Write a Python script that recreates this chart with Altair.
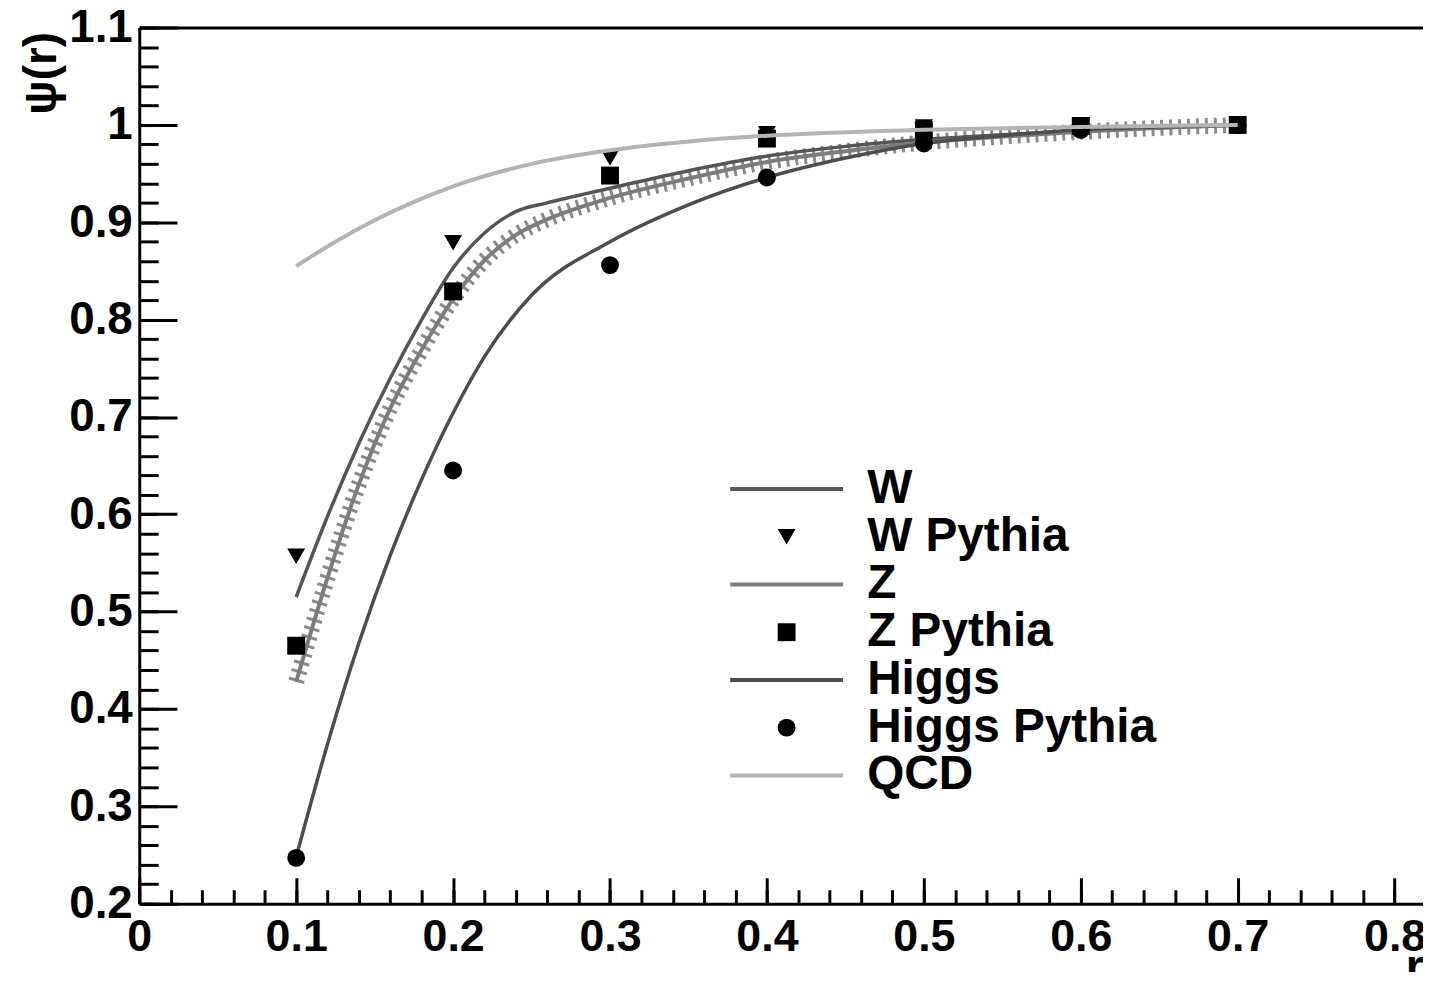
import altair as alt
import pandas as pd

FONT = "Liberation Sans"

# ---- curves ----
w_r = [0.100, 0.120, 0.140, 0.160, 0.180, 0.200, 0.220, 0.240, 0.260, 0.300, 0.350, 0.400, 0.450, 0.500, 0.550, 0.600, 0.650, 0.700]
w_v = [0.515, 0.598, 0.673, 0.740, 0.800, 0.853, 0.889, 0.911, 0.920, 0.935, 0.953, 0.968, 0.978, 0.985, 0.990, 0.994, 0.997, 1.000]

z_r = [0.100, 0.120, 0.140, 0.160, 0.180, 0.200, 0.220, 0.240, 0.260, 0.300, 0.350, 0.400, 0.450, 0.500, 0.550, 0.600, 0.650, 0.700]
z_v = [0.428, 0.535, 0.631, 0.709, 0.769, 0.821, 0.861, 0.887, 0.903, 0.925, 0.945, 0.962, 0.973, 0.982, 0.988, 0.993, 0.997, 1.000]

h_r = [0.100, 0.120, 0.140, 0.160, 0.180, 0.200, 0.220, 0.250, 0.300, 0.350, 0.400, 0.450, 0.500, 0.550, 0.600, 0.650, 0.700]
h_v = [0.248, 0.364, 0.468, 0.558, 0.636, 0.704, 0.762, 0.825, 0.880, 0.918, 0.946, 0.966, 0.981, 0.989, 0.995, 0.998, 1.000]

q_r = [0.100, 0.125, 0.150, 0.175, 0.200, 0.250, 0.300, 0.350, 0.400, 0.500, 0.600, 0.700]
q_v = [0.855, 0.880, 0.902, 0.921, 0.937, 0.960, 0.974, 0.983, 0.989, 0.995, 0.998, 1.000]

# ---- Pythia points ----
p_r = [0.1, 0.2, 0.3, 0.4, 0.5, 0.6, 0.7]
w_pythia = [0.557, 0.879, 0.966, 0.991, 0.998, 0.999, 1.000]
z_pythia = [0.465, 0.829, 0.948, 0.986, 0.995, 0.999, 1.000]
h_pythia = [0.247, 0.645, 0.856, 0.946, 0.981, 0.995, 1.000]

# ---- legend / styling lists ----
series_names = ["W", "W Pythia", "Z", "Z Pythia", "Higgs", "Higgs Pythia", "QCD"]
stroke_colors = ["#555555", "transparent", "#7c7c7c", "transparent", "#4d4d4d", "transparent", "#b4b4b4"]
fill_colors = ["transparent", "black", "transparent", "black", "transparent", "black", "transparent"]
LINE_SYMBOL = "M-6.3,0L6.3,0"
shapes = [LINE_SYMBOL, "triangle-down", LINE_SYMBOL, "square", LINE_SYMBOL, "circle", LINE_SYMBOL]
W_COLOR, Z_COLOR, H_COLOR, Q_COLOR = "#555555", "#7c7c7c", "#4d4d4d", "#b4b4b4"

# ---- axis tick values / labels ----
x_major = [0, 0.1, 0.2, 0.3, 0.4, 0.5, 0.6, 0.7, 0.8]
y_major = [0.2, 0.3, 0.4, 0.5, 0.6, 0.7, 0.8, 0.9, 1.0, 1.1]
x_minor = [round(i * 0.02, 2) for i in range(41)]
y_minor = [round(0.2 + i * 0.02, 2) for i in range(46)]

def frame(name, rs, vs):
    return pd.DataFrame({"series": name, "r": rs, "v": vs})

w_df = frame("W", w_r, w_v)
z_df = frame("Z", z_r, z_v)
h_df = frame("Higgs", h_r, h_v)
q_df = frame("QCD", q_r, q_v)
points = pd.concat([frame("W Pythia", p_r, w_pythia), frame("Z Pythia", p_r, z_pythia),
                    frame("Higgs Pythia", p_r, h_pythia)], ignore_index=True)

PLOT_W, PLOT_H = 1291, 881
xs = alt.Scale(domain=[0, 0.8181], nice=False, zero=False)
ys = alt.Scale(domain=[0.2, 1.1], nice=False, zero=False)

stroke_scale = alt.Scale(domain=series_names, range=stroke_colors)
fill_scale = alt.Scale(domain=series_names, range=fill_colors)
shape_scale = alt.Scale(domain=series_names, range=shapes)

# label axes
x_label_axis = alt.Axis(orient="bottom", values=x_major, format="~g", labelFont=FONT, labelFontWeight="bold",
                        labelFontSize=45, labelColor="black", labelPadding=11, labelFlush=False,
                        labelOverlap=False, ticks=False, tickSize=0, domain=True, domainColor="black",
                        domainWidth=3, grid=False, title="r", titleFont=FONT, titleFontWeight="bold",
                        titleFontSize=46, titleColor="black", titleX=PLOT_W, titleY=42,
                        titleAlign="right", titleBaseline="top")
y_label_axis = alt.Axis(orient="left", values=y_major, format="~g", labelFont=FONT, labelFontWeight="bold",
                        labelFontSize=46, labelColor="black", labelPadding=7, labelFlush=False,
                        labelOverlap=False, ticks=False, tickSize=0, domain=True, domainColor="black",
                        domainWidth=3, grid=False, title="ψ(r)", titleFont=FONT, titleFontWeight="bold",
                        titleFontSize=46, titleColor="black", titleAngle=270, titleX=-98, titleY=4,
                        titleAlign="right", titleBaseline="middle")

def tick_axis(orient, values, size):
    return alt.Axis(orient=orient, values=values, labels=False, domain=False, ticks=True,
                    tickSize=size, tickWidth=3, tickColor="black", offset=-size, grid=False, title=None)

top_axis = alt.Axis(orient="top", labels=False, ticks=False, domain=True, domainColor="black",
                    domainWidth=3, grid=False, title=None)

legend = alt.Legend(orient="none", legendX=627, legendY=440, title=None, padding=0,
                    labelFont=FONT, labelFontWeight="bold", labelFontSize=48, labelColor="black",
                    labelLimit=1000, labelOffset=57, symbolOffset=0, symbolSize=324,
                    symbolStrokeWidth=4, rowPadding=0)

def curve(df, color, width, x_axis, y_axis, dash=None):
    kw = dict(interpolate="monotone", strokeWidth=width, color=color)
    if dash is not None:
        kw["strokeDash"] = dash
    return alt.Chart(df).mark_line(**kw).encode(
        x=alt.X("r:Q", scale=xs, axis=x_axis),
        y=alt.Y("v:Q", scale=ys, axis=y_axis),
    )

hatch = curve(z_df, "#8a8a8a", 16, tick_axis("bottom", x_minor, 14), tick_axis("left", y_minor, 19), dash=[3, 6])
w_line = curve(w_df, W_COLOR, 3.5, tick_axis("bottom", x_major, 26), tick_axis("left", y_major, 38))
z_line = curve(z_df, Z_COLOR, 4, None, None)
h_line = curve(h_df, H_COLOR, 3.5, None, None)
q_line = curve(q_df, Q_COLOR, 4, top_axis, None)

marks = alt.Chart(points).mark_point(size=324, opacity=1, strokeWidth=4).encode(
    x=alt.X("r:Q", scale=xs, axis=x_label_axis),
    y=alt.Y("v:Q", scale=ys, axis=y_label_axis),
    fill=alt.Fill("series:N", scale=fill_scale, legend=legend),
    stroke=alt.Stroke("series:N", scale=stroke_scale, legend=legend),
    shape=alt.Shape("series:N", scale=shape_scale, legend=legend),
)

chart = alt.layer(hatch, w_line, z_line, h_line, marks, q_line).resolve_axis(
    x="independent", y="independent"
).properties(
    width=PLOT_W, height=PLOT_H,
    autosize=alt.AutoSizeParams(type="none"),
    padding={"left": 132, "top": 17, "right": 0, "bottom": 66},
    background="white",
).configure_view(stroke="transparent")

chart.save("out.html", embed_options={"renderer": "svg", "actions": False})
